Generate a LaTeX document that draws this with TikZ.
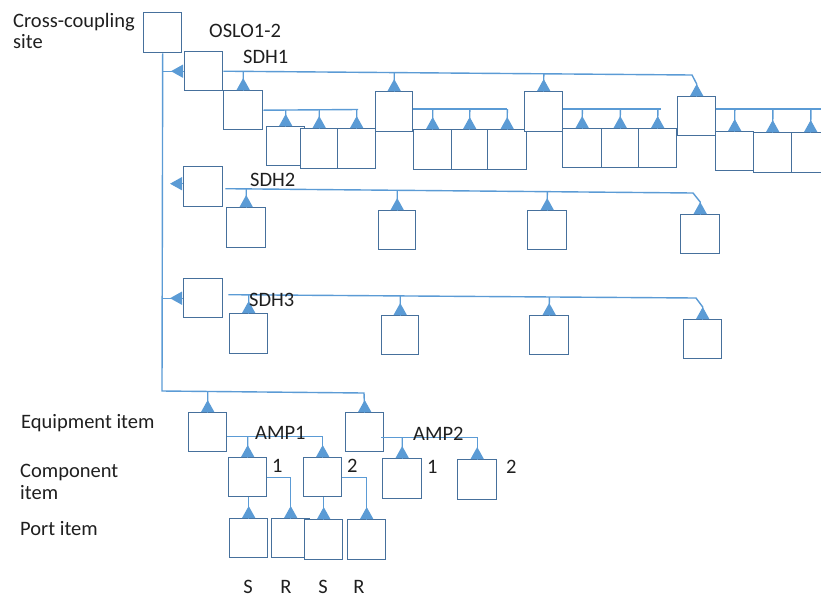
\documentclass[tikz,border=0pt]{standalone}
\usepackage{fontspec}
\setmainfont{Carlito}
\usetikzlibrary{arrows.meta,calc}
\definecolor{boxc}{RGB}{70,112,156}
\definecolor{linec}{RGB}{91,155,213}
\newcommand\dropto[3]{%
  \draw[conn] (intersection of #1--#2 and #3.north--#3.south) -- (#3.north);
  \draw[upar] (#3.north) -- ++(0,-12);}
\begin{document}
\begin{tikzpicture}[x=1pt,y=-1pt,
  bx/.style={draw=boxc, line width=1.4pt, fill=white, inner sep=0pt, anchor=north west,
             minimum width=38pt, minimum height=39pt},
  conn/.style={draw=linec, line width=1.4pt},
  upar/.style={draw=linec, line width=1.4pt, -{Triangle[width=13pt,length=12pt]}},
  lbl/.style={anchor=base west, inner sep=0pt, text=black!88, font=\fontsize{20.5}{24}\selectfont},
  clbl/.style={anchor=base, inner sep=0pt, text=black!88, font=\fontsize{20.5}{24}\selectfont}]
\useasboundingbox (0,0) rectangle (821,598);
\clip (0,0) rectangle (821,598);
% ---------- boxes ----------
\node[bx, minimum height=40pt] (cc) at (143,12) {};
\node[bx] (oslo) at (184,51) {};
% SDH1
\node[bx, minimum width=39pt] (s1c1) at (223,90) {};
\node[bx] (s1g1) at (266,126) {};
\node[bx, minimum width=37pt, minimum height=40pt] (s1g2) at (300,128) {};
\node[bx, minimum height=40pt] (s1g3) at (337,128) {};
\node[bx, minimum width=37pt, minimum height=40pt] (s1c2) at (375,91) {};
\node[bx, minimum height=40pt] (s1g4) at (413,129) {};
\node[bx, minimum width=36pt, minimum height=40pt] (s1g5) at (451,129) {};
\node[bx, minimum width=39pt, minimum height=40pt] (s1g6) at (487,129) {};
\node[bx, minimum height=40pt] (s1c3) at (524,91) {};
\node[bx, minimum width=39pt] (s1g7) at (562,128) {};
\node[bx, minimum width=37pt] (s1g8) at (601,128) {};
\node[bx] (s1g9) at (638,128) {};
\node[bx] (s1c4) at (677,96) {};
\node[bx] (s1g10) at (715,131) {};
\node[bx, minimum height=40pt] (s1g11) at (753,132) {};
\node[bx, minimum height=40pt] (s1g12) at (791,132) {};
% SDH2
\node[bx, minimum width=39pt, minimum height=40pt] (s2p) at (183,166) {};
\node[bx, minimum width=39pt, minimum height=40pt] (s2c1) at (226,207) {};
\node[bx, minimum width=37pt] (s2c2) at (378,210) {};
\node[bx, minimum width=39pt] (s2c3) at (527,210) {};
\node[bx, minimum width=39pt] (s2c4) at (680,214) {};
% SDH3
\node[bx, minimum width=39pt] (s3p) at (183,278) {};
\node[bx, minimum height=40pt] (s3c1) at (229,313) {};
\node[bx, minimum width=37pt] (s3c2) at (381,315) {};
\node[bx, minimum width=39pt] (s3c3) at (529,315) {};
\node[bx] (s3c4) at (683,319) {};
% AMP
\node[bx] (a1) at (188,412) {};
\node[bx] (a2) at (345,412) {};
\node[bx] (a1c1) at (228,457) {};
\node[bx] (a1c2) at (303,457) {};
\node[bx, minimum width=39pt, minimum height=40pt] (a2c1) at (382,458) {};
\node[bx, minimum width=39pt, minimum height=40pt] (a2c2) at (457,459) {};
% ports
\node[bx] (p1) at (229,518) {};
\node[bx] (p2) at (271,518) {};
\node[bx, minimum height=40pt] (p3) at (304,519) {};
\node[bx, minimum height=40pt] (p4) at (347,519) {};
% ---------- coordinates ----------
\coordinate (tb) at (162,391);
\coordinate (ae) at (364,393);
\coordinate (s1e) at (692,75);
\coordinate (g1s) at (s1c1.east);
\coordinate (g1e) at (358,109.5);
\coordinate (g2s) at ($(s1c2.north east)+(0,18)$);
\coordinate (g2e) at (507,109);
\coordinate (g3s) at ($(s1c3.north east)+(0,18)$);
\coordinate (g3e) at (661,109);
\coordinate (g4s) at ($(s1c4.north east)+(0,13)$);
\coordinate (g4e) at (830,109);
\coordinate (s2s) at ($(s2p.east)+(2,2)$);
\coordinate (s2e) at (693,193);
\coordinate (s3s) at ($(s3p.east)+(5,-3.5)$);
\coordinate (s3e) at (696,298);
\coordinate (m1s) at ($(a1.east)+(0,4.5)$);
\coordinate (m1e) at (a1c2.north |- m1s);
\coordinate (m2s) at ($(a2.east)+(-3,5)$);
\coordinate (m2e) at (a2c2.north |- m2s);
% ---------- trunk ----------
\draw[conn] (cc.south) -- (tb) -- (ae) -- (a2.north);
\draw[upar] (a2.north) -- ++(0,-12);
\dropto{tb}{ae}{a1}
% left arrows
\draw[conn] (oslo.west) -- (oslo.west -| cc.south);
\draw[upar] (oslo.west) -- ++(-13,0);
\draw[conn] ($(s2p.west)+(0,-3)$) -- ($(s2p.west)+(0,-3)$ -| cc.south);
\draw[upar] ($(s2p.west)+(0,-3)$) -- ++(-13,0);
\draw[conn] (s3p.west) -- (s3p.west -| cc.south);
\draw[upar] (s3p.west) -- ++(-13,0);
% SDH1 bus
\draw[conn] (oslo.east) -- (s1e) -- ($(s1c4.north)+(0,-12)$) -- (s1c4.north);
\draw[upar] (s1c4.north) -- ++(0,-12);
\dropto{oslo.east}{s1e}{s1c1}
\dropto{oslo.east}{s1e}{s1c2}
\dropto{oslo.east}{s1e}{s1c3}
% SDH1 sub-buses
\draw[conn] (g1s) -- (g1e);
\dropto{g1s}{g1e}{s1g1}
\dropto{g1s}{g1e}{s1g2}
\dropto{g1s}{g1e}{s1g3}
\draw[conn] (g2s) -- (g2e);
\dropto{g2s}{g2e}{s1g4}
\dropto{g2s}{g2e}{s1g5}
\dropto{g2s}{g2e}{s1g6}
\draw[conn] (g3s) -- (g3e);
\dropto{g3s}{g3e}{s1g7}
\dropto{g3s}{g3e}{s1g8}
\dropto{g3s}{g3e}{s1g9}
\draw[conn] (g4s) -- (g4e);
\dropto{g4s}{g4e}{s1g10}
\dropto{g4s}{g4e}{s1g11}
\dropto{g4s}{g4e}{s1g12}
% SDH2 bus
\draw[conn] (s2s) -- (s2e) -- ($(s2c4.north)+(0,-12)$) -- (s2c4.north);
\draw[upar] (s2c4.north) -- ++(0,-12);
\dropto{s2s}{s2e}{s2c1}
\dropto{s2s}{s2e}{s2c2}
\dropto{s2s}{s2e}{s2c3}
% SDH3 bus
\draw[conn] (s3s) -- (s3e) -- ($(s3c4.north)+(0,-12)$) -- (s3c4.north);
\draw[upar] (s3c4.north) -- ++(0,-12);
\dropto{s3s}{s3e}{s3c1}
\dropto{s3s}{s3e}{s3c2}
\dropto{s3s}{s3e}{s3c3}
% AMP buses
\draw[conn] (m1s) -- (m1e) -- (a1c2.north);
\draw[upar] (a1c2.north) -- ++(0,-12);
\dropto{m1s}{m1e}{a1c1}
\draw[conn] (m2s) -- (m2e) -- (a2c2.north);
\draw[upar] (a2c2.north) -- ++(0,-12);
\dropto{m2s}{m2e}{a2c1}
% ports
\draw[conn] (p1.north |- a1c1.south) -- (p1.north);
\draw[upar] (p1.north) -- ++(0,-12);
\draw[conn] (a1c1.east) -- (p2.north |- a1c1.east) -- (p2.north);
\draw[upar] (p2.north) -- ++(0,-12);
\draw[conn] (p3.north |- a1c2.south) -- (p3.north);
\draw[upar] (p3.north) -- ++(0,-12);
\draw[conn] (a1c2.east) -- (p4.north |- a1c2.east) -- (p4.north);
\draw[upar] (p4.north) -- ++(0,-12);
% ---------- labels ----------
\node[lbl] (tcc1) at (13,27) {Cross-coupling};
\node[lbl] (tcc2) at (13,48) {site};
\node[lbl] (tosl) at (209,37) {OSLO1-2};
\node[lbl] (tsd1) at (243,63) {SDH1};
\node[lbl] (tsd2) at (250,186) {SDH2};
\node[lbl] (tsd3) at (249,306) {SDH3};
\node[lbl] (teq) at (21,428) {Equipment item};
\node[lbl] (tco1) at (20,477) {Component};
\node[lbl] (tco2) at (20,499) {item};
\node[lbl] (tpo) at (20,535) {Port item};
\node[lbl] (tam1) at (255,439) {AMP1};
\node[lbl] (tam2) at (413,440) {AMP2};
\node[lbl] (tn1) at (272,472) {1};
\node[lbl] (tn2) at (347,472) {2};
\node[lbl] (tn3) at (427,473) {1};
\node[lbl] (tn4) at (506,473) {2};
\node[clbl] (ts1) at (248,593) {S};
\node[clbl] (tr1) at (286,593) {R};
\node[clbl] (ts2) at (323,593) {S};
\node[clbl] (tr2) at (359,593) {R};
\end{tikzpicture}
\end{document}
